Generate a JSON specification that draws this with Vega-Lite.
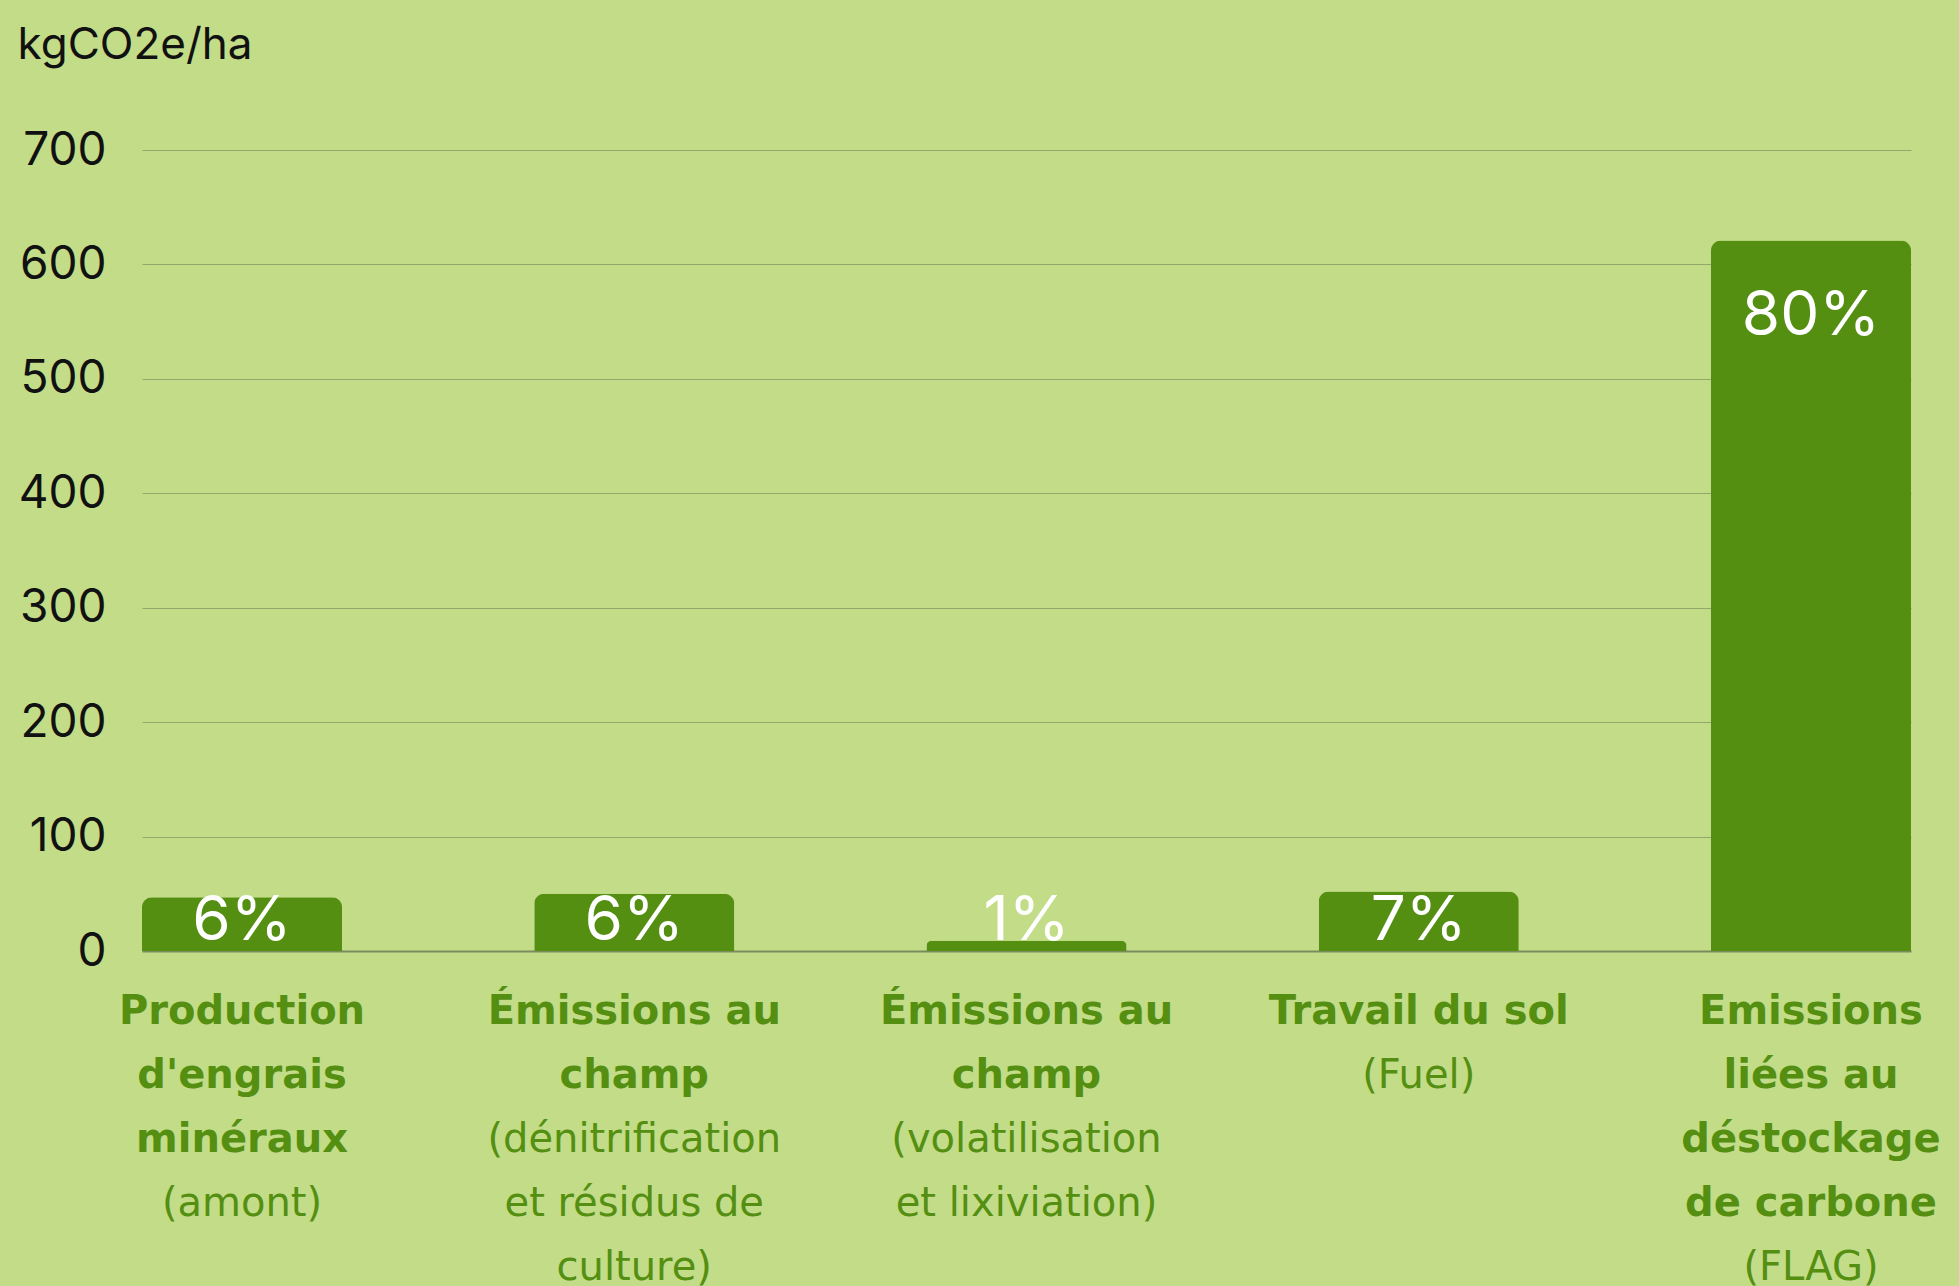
{
  "$schema": "https://vega.github.io/schema/vega-lite/v6.json",
  "width": 1769,
  "height": 801,
  "autosize": {"type": "none"},
  "padding": {"left": 142, "top": 150, "right": 48, "bottom": 335},
  "background": "#c2dc88",
  "config": {"view": {"stroke": null}, "font": "Inter"},
  "data": {
    "values": [
      {"categorie": "Production|d'engrais|minéraux#(amont)", "valeur": 47, "part": "6%"},
      {"categorie": "Émissions au|champ#(dénitrification|et résidus de|culture)", "valeur": 50, "part": "6%"},
      {"categorie": "Émissions au|champ#(volatilisation|et lixiviation)", "valeur": 9, "part": "1%"},
      {"categorie": "Travail du sol#(Fuel)", "valeur": 52, "part": "7%"},
      {"categorie": "Emissions|liées au|déstockage|de carbone#(FLAG)", "valeur": 621, "part": "80%"}
    ]
  },
  "layer": [
    {
      "mark": {"type": "bar", "color": "#548f12", "cornerRadiusTopLeft": 10, "cornerRadiusTopRight": 10},
      "encoding": {
        "x": {
          "field": "categorie", "type": "nominal", "sort": null,
          "scale": {"paddingInner": 0.49, "paddingOuter": 0},
          "axis": {
            "orient": "bottom", "title": null, "labelAngle": 0,
            "labelExpr": "split(split(datum.value, '#')[0], '|')",
            "labelFont": "DejaVu Sans", "labelFontSize": 40, "labelFontWeight": "bold",
            "labelColor": "#548f12", "labelLineHeight": 64, "labelPadding": 40,
            "ticks": false, "tickSize": 0, "domain": true, "domainColor": "#7b8c5c", "domainWidth": 2,
            "labelLimit": 500, "labelOverlap": false, "grid": false, "zindex": 0
          }
        },
        "y": {
          "field": "valeur", "type": "quantitative",
          "scale": {"domain": [0, 700]},
          "axis": {
            "values": [0, 100, 200, 300, 400, 500, 600, 700],
            "title": "kgCO2e/ha", "titleAngle": 0, "titleAlign": "left", "titleBaseline": "alphabetic",
            "titleX": -125, "titleY": -92, "titleFont": "Inter", "titleFontSize": 44, "titleFontWeight": "normal", "titleColor": "#111111",
            "grid": true, "gridColor": "#8fa86c", "gridWidth": 1.2,
            "domain": false, "ticks": false, "tickSize": 0,
            "labelFont": "Inter", "labelFontSize": 46, "labelColor": "#111111", "labelPadding": 36, "labelFontWeight": "normal"
          }
        }
      }
    },
    {
      "transform": [{"filter": "datum.valeur > 100"}],
      "mark": {"type": "text", "color": "white", "font": "Inter", "fontSize": 62, "fontWeight": "normal", "baseline": "alphabetic", "dy": 95},
      "encoding": {
        "x": {
          "field": "categorie", "type": "nominal", "sort": null,
          "axis": {
            "orient": "bottom", "title": null, "labelAngle": 0,
            "labelExpr": "split(replace(split(datum.value, '#')[0], regexp('[^|]+', 'g'), '\u200b') + '|' + split(datum.value, '#')[1], '|')",
            "labelFont": "DejaVu Sans", "labelFontSize": 40, "labelFontWeight": "normal",
            "labelColor": "#548f12", "labelLineHeight": 64, "labelPadding": 40,
            "ticks": false, "tickSize": 0, "domain": false,
            "labelLimit": 500, "labelOverlap": false, "grid": false, "zindex": 0
          }
        },
        "y": {"field": "valeur", "type": "quantitative"},
        "text": {"field": "part"}
      }
    },
    {
      "transform": [{"filter": "datum.valeur <= 100"}],
      "mark": {"type": "text", "color": "white", "font": "Inter", "fontSize": 62, "fontWeight": "normal", "baseline": "alphabetic", "dy": -11},
      "encoding": {
        "x": {"field": "categorie", "type": "nominal", "sort": null, "axis": null},
        "y": {"datum": 0, "type": "quantitative"},
        "text": {"field": "part"}
      }
    }
  ],
  "resolve": {"axis": {"x": "independent"}}
}
